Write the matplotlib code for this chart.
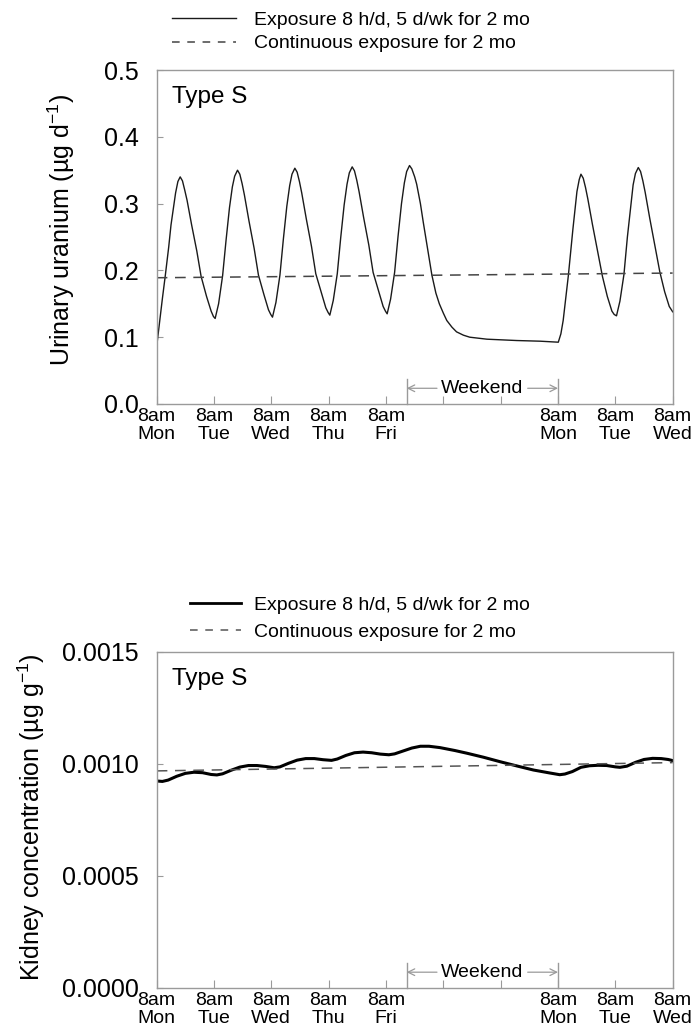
import matplotlib
matplotlib.use('Agg')
import matplotlib.pyplot as plt
from matplotlib.ticker import FormatStrFormatter
from matplotlib.lines import Line2D

plt.rcParams['font.family'] = ['Liberation Sans', 'DejaVu Sans']
plt.rcParams['mathtext.fontset'] = 'custom'
plt.rcParams['mathtext.rm'] = 'Liberation Sans'
plt.rcParams['mathtext.default'] = 'regular'

# days since 8am Monday
day_ticks = [0, 1, 2, 3, 4, 5, 6, 7, 8, 9]
day_labels = ['8am\nMon', '8am\nTue', '8am\nWed', '8am\nThu', '8am\nFri',
              '', '', '8am\nMon', '8am\nTue', '8am\nWed']
weekend_start, weekend_end = 4.36, 7.0

# urinary uranium, exposure 8 h/d, 5 d/wk
urine_t = [0.00, 0.05, 0.10, 0.15, 0.21, 0.25, 0.29, 0.33, 0.37, 0.41, 0.45, 0.49, 0.53, 0.61, 0.70, 0.775, 0.87, 0.95, 0.99,
           1.02, 1.08, 1.15, 1.21, 1.27, 1.32, 1.36, 1.41, 1.45, 1.49, 1.53, 1.61, 1.70, 1.775, 1.87, 1.95, 1.99,
           2.02, 2.08, 2.15, 2.21, 2.27, 2.32, 2.36, 2.41, 2.45, 2.49, 2.53, 2.61, 2.70, 2.775, 2.87, 2.95, 2.99,
           3.02, 3.08, 3.15, 3.21, 3.27, 3.32, 3.36, 3.41, 3.45, 3.49, 3.53, 3.61, 3.70, 3.775, 3.87, 3.95, 3.99,
           4.02, 4.08, 4.15, 4.21, 4.27, 4.32, 4.36, 4.41,
           4.45, 4.50, 4.535, 4.60, 4.65, 4.73, 4.80, 4.87, 4.93, 5.00, 5.06, 5.15, 5.23, 5.35, 5.46, 5.76, 6.28, 6.69, 7.005,
           7.05, 7.09, 7.18, 7.26, 7.33, 7.37, 7.40, 7.44, 7.48, 7.52, 7.60, 7.69, 7.775, 7.86, 7.94, 7.98,
           8.02, 8.08, 8.15, 8.21, 8.27, 8.31, 8.35, 8.40, 8.44, 8.48, 8.52, 8.60, 8.69, 8.775, 8.86, 8.94, 9.00]
urine_v = [0.086, 0.122, 0.158, 0.192, 0.235, 0.268, 0.292, 0.316, 0.333, 0.340, 0.334, 0.320, 0.305, 0.268, 0.229, 0.191, 0.161, 0.139, 0.131,
           0.128, 0.150, 0.192, 0.245, 0.294, 0.325, 0.341, 0.350, 0.344, 0.330, 0.313, 0.274, 0.233, 0.193, 0.164, 0.141, 0.134,
           0.130, 0.152, 0.193, 0.247, 0.296, 0.327, 0.344, 0.353, 0.347, 0.333, 0.316, 0.277, 0.236, 0.195, 0.167, 0.144, 0.137,
           0.133, 0.155, 0.195, 0.249, 0.298, 0.329, 0.346, 0.355, 0.349, 0.335, 0.318, 0.279, 0.238, 0.197, 0.169, 0.146, 0.139,
           0.135, 0.157, 0.197, 0.251, 0.300, 0.331, 0.348, 0.357,
           0.352, 0.340, 0.329, 0.300, 0.272, 0.230, 0.193, 0.166, 0.150, 0.136, 0.125, 0.115, 0.108, 0.103, 0.100, 0.097, 0.095, 0.094, 0.0925,
           0.105, 0.125, 0.192, 0.262, 0.318, 0.336, 0.344, 0.338, 0.324, 0.307, 0.269, 0.229, 0.191, 0.161, 0.139, 0.134,
           0.132, 0.154, 0.194, 0.250, 0.297, 0.328, 0.345, 0.354, 0.348, 0.334, 0.317, 0.278, 0.237, 0.198, 0.168, 0.146, 0.138]
# continuous exposure
urine_cont_t = [0, 9]
urine_cont_v = [0.189, 0.196]

# kidney concentration
kidney_t = [0.0, 0.1, 0.2, 0.35, 0.5, 0.65, 0.8, 0.95, 1.05, 1.15, 1.3, 1.45, 1.6, 1.75, 1.9, 2.05, 2.15, 2.3, 2.45, 2.6,
            2.75, 2.9, 3.05, 3.15, 3.3, 3.45, 3.6, 3.75, 3.9, 4.05, 4.15, 4.3, 4.45, 4.6, 4.75, 4.94, 5.2, 5.41, 5.7,
            5.99, 6.3, 6.57, 6.85, 7.03, 7.12, 7.25, 7.4, 7.55, 7.7, 7.85, 8.0, 8.08, 8.2, 8.35, 8.5, 8.65, 8.8, 8.92, 9.0]
kidney_v = [0.000924, 0.000922, 0.000928, 0.000945, 0.000958, 0.000963, 0.000961, 0.000953, 0.000951, 0.000956,
            0.000972, 0.000986, 0.000993, 0.000993, 0.000989, 0.000983, 0.000987, 0.001003, 0.001017, 0.001024,
            0.001024, 0.001019, 0.001016, 0.001022, 0.001038, 0.001050, 0.001053, 0.001050, 0.001044, 0.001041,
            0.001045, 0.001058, 0.001071, 0.001079, 0.001079, 0.001073, 0.001060, 0.001048, 0.001030, 0.001010,
            0.000990, 0.000973, 0.000960, 0.000952, 0.000955, 0.000966, 0.000985, 0.000992, 0.000994, 0.000993,
            0.000987, 0.000985, 0.000990, 0.001007, 0.001020, 0.001025, 0.001024, 0.001020, 0.001015]
kidney_cont_t = [0, 9]
kidney_cont_v = [0.000969, 0.001006]

legend_labels = ['Exposure 8 h/d, 5 d/wk for 2 mo', 'Continuous exposure for 2 mo']

GREY = '#9a9a9a'

fig = plt.figure(figsize=(6.96, 10.34), dpi=100)
ax1 = fig.add_axes([0.2251, 0.6093, 0.7414, 0.3230])
ax2 = fig.add_axes([0.2251, 0.0445, 0.7414, 0.3250])


def style_axis(ax, ymax, yticks, fmt):
    ax.set_xlim(0, 9)
    ax.set_ylim(0, ymax)
    for s in ax.spines.values():
        s.set_color(GREY)
        s.set_linewidth(1.0)
    ax.set_xticks(day_ticks)
    ax.set_xticklabels(day_labels, fontsize=14, linespacing=1.05)
    ax.set_yticks(yticks)
    ax.yaxis.set_major_formatter(FormatStrFormatter(fmt))
    ax.tick_params(axis='x', direction='in', length=6, color=GREY, pad=3)
    ax.tick_params(axis='y', direction='in', length=4, color=GREY, labelsize=18, pad=13)
    ax.text(0.03, 0.953, 'Type S', transform=ax.transAxes, fontsize=17.5,
            ha='left', va='top')
    # weekend marker
    tr = ax.get_xaxis_transform()
    for xw in (weekend_start, weekend_end):
        ax.plot([xw, xw], [0, 0.075], transform=tr, color=GREY, lw=1.0, clip_on=False)
    arrow = dict(arrowstyle='->', color=GREY, lw=0.9, shrinkA=1, shrinkB=0,
                 mutation_scale=12)
    xc = (weekend_start + weekend_end) / 2
    ax.annotate('Weekend', xy=(weekend_start, 0.047), xytext=(xc, 0.047),
                xycoords=tr, textcoords=tr, ha='center', va='center',
                fontsize=14, arrowprops=arrow)
    ax.annotate('Weekend', xy=(weekend_end, 0.047), xytext=(xc, 0.047),
                xycoords=tr, textcoords=tr, ha='center', va='center',
                fontsize=14, color='none', arrowprops=arrow)


# top panel
ax1.plot(urine_t, urine_v, color='#1a1a1a', lw=1.0)
ax1.plot(urine_cont_t, urine_cont_v, color='#444444', lw=1.1, dashes=(7, 5))
style_axis(ax1, 0.5, [0.0, 0.1, 0.2, 0.3, 0.4, 0.5], '%.1f')
ax1.set_ylabel('Urinary uranium (µg d$^{-1}$)', fontsize=18)
ax1.yaxis.set_label_coords(-0.154, 0.52)
h1 = [Line2D([], [], color='#1a1a1a', lw=1.0),
      Line2D([], [], color='#444444', lw=1.1, dashes=(5, 5))]
fig.legend(h1, legend_labels, loc='upper left', bbox_to_anchor=(0.247, 0.989),
           frameon=False, fontsize=14, handlelength=3.3, handletextpad=0.9,
           labelspacing=0.3, borderpad=0, borderaxespad=0)

# bottom panel
ax2.plot(kidney_t, kidney_v, color='black', lw=2.2)
ax2.plot(kidney_cont_t, kidney_cont_v, color='#555555', lw=1.1, dashes=(7, 5))
style_axis(ax2, 0.0015, [0.0, 0.0005, 0.0010, 0.0015], '%.4f')
ax2.set_ylabel('Kidney concentration (µg g$^{-1}$)', fontsize=18)
ax2.yaxis.set_label_coords(-0.213, 0.509)
h2 = [Line2D([], [], color='black', lw=2.0),
      Line2D([], [], color='#555555', lw=1.1, dashes=(5, 5))]
fig.legend(h2, legend_labels, loc='upper left', bbox_to_anchor=(0.273, 0.423),
           frameon=False, fontsize=14, handlelength=2.6, handletextpad=0.7,
           labelspacing=0.45, borderpad=0, borderaxespad=0)

fig.savefig('out.png', dpi=100)
